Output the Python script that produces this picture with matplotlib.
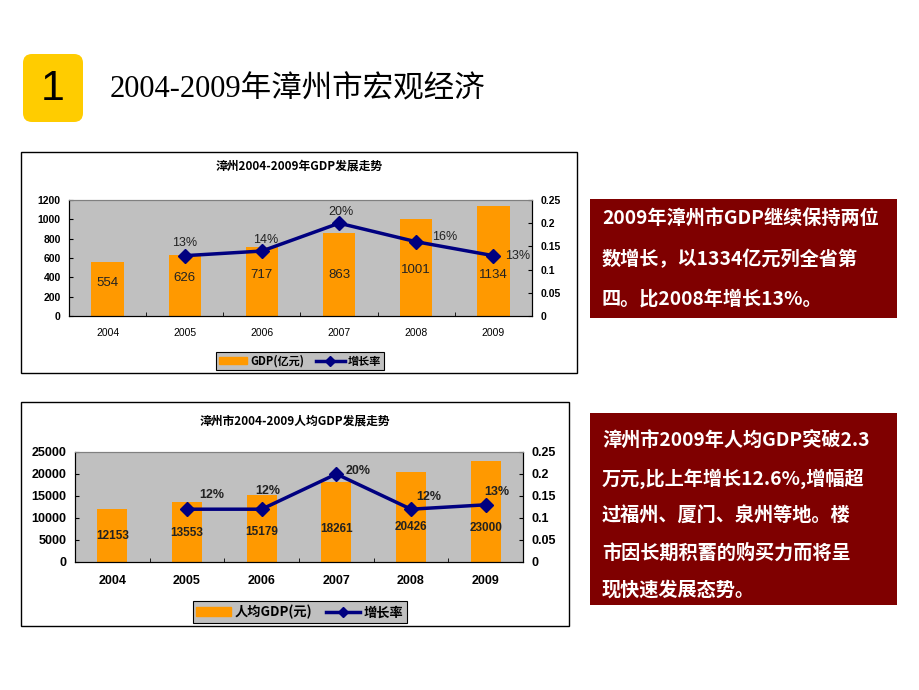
import numpy as np
import matplotlib
matplotlib.use('Agg')
import matplotlib.pyplot as plt
from matplotlib.patches import Rectangle, FancyBboxPatch
from matplotlib.lines import Line2D

W, H = 920, 690

years = ['2004', '2005', '2006', '2007', '2008', '2009']
# GDP (亿元) and growth rate 2005-2009
gdp = [554, 626, 717, 863, 1001, 1134]
gdp_rate = [0.13, 0.14, 0.20, 0.16, 0.13]
gdp_rate_text = ['13%', '14%', '20%', '16%', '13%']
# 人均GDP (元) and growth rate 2005-2009
per_gdp = [12153, 13553, 15179, 18261, 20426, 23000]
per_rate = [0.12, 0.12, 0.20, 0.12, 0.13]
per_rate_text = ['12%', '12%', '20%', '12%', '13%']

rate_ticks = [0, 0.05, 0.1, 0.15, 0.2, 0.25]
rate_tick_text = ['0', '0.05', '0.1', '0.15', '0.2', '0.25']

text1 = ['2009年漳州市GDP继续保持两位',
         '数增长，以1334亿元列全省第',
         '四。比2008年增长13%。']
text2 = ['漳州市2009年人均GDP突破2.3',
         '万元,比上年增长12.6%,增幅超',
         '过福州、厦门、泉州等地。楼',
         '市因长期积蓄的购买力而将呈',
         '现快速发展态势。']

plt.rcParams['font.family'] = ['Liberation Sans', 'Noto Sans CJK SC']
CJK = ['Noto Sans CJK SC', 'DejaVu Sans']

ORANGE = '#FF9900'
NAVY = '#000080'
GRAY = '#C0C0C0'
DARKRED = '#7F0000'


def rect(x0, y0, x1, y1):
    return [x0 / W, 1 - y1 / H, (x1 - x0) / W, (y1 - y0) / H]


fig = plt.figure(figsize=(9.2, 6.9), dpi=100)

# background layer in pixel coordinates
bg = fig.add_axes([0, 0, 1, 1])
bg.set_xlim(0, W)
bg.set_ylim(H, 0)
bg.axis('off')

bg.add_patch(FancyBboxPatch((23, 54), 60, 68, boxstyle='round,pad=0,rounding_size=9',
                            facecolor='#FFCC00', edgecolor='none'))
bg.text(53, 89, '1', fontsize=31, ha='center', va='center', family='Liberation Sans')
bg.text(110, 90, '2004-2009年漳州市宏观经济', fontsize=22, ha='left', va='center',
        family=['Liberation Serif', 'Noto Sans CJK SC'])

# chart frames
bg.add_patch(Rectangle((21, 152), 556, 221, facecolor='white', edgecolor='black', lw=1))
bg.add_patch(Rectangle((21, 402), 548, 224, facecolor='white', edgecolor='black', lw=1))

# text boxes
bg.add_patch(Rectangle((590, 199), 307, 119, facecolor=DARKRED, edgecolor='none'))
bg.add_patch(Rectangle((590, 413), 307, 192, facecolor=DARKRED, edgecolor='none'))
for i, line in enumerate(text1):
    bg.text(602, 219 + i * 40, line, color='white', fontsize=13.8, fontweight='bold',
            ha='left', va='center', family=CJK)
for i, line in enumerate(text2):
    bg.text(602, 441 + i * 37.3, line, color='white', fontsize=13.8, fontweight='bold',
            ha='left', va='center', family=CJK)


def draw_chart(plot_px, title, title_xy, values, rate, rate_text, ymax, ystep,
               bar_w, bar_label_y, rate_off, bold, tick_fs, xtick_fs, label_fs,
               pct_fs, legend_name, legend_xy, legend_fs):
    ax = fig.add_axes(rect(*plot_px))
    ax.set_facecolor(GRAY)
    x = np.arange(len(years))
    ax.bar(x, values, width=bar_w, color=ORANGE, zorder=2)
    ax.set_xlim(-0.5, len(years) - 0.5)
    ax.set_ylim(0, ymax)
    ax.set_yticks(np.arange(0, ymax + 1, ystep))
    ax.set_xticks(x)
    ax.set_xticklabels(years, fontsize=xtick_fs,
                       fontweight='bold' if bold else 'normal')
    ax.set_xticks(np.arange(-0.5, len(years)), minor=True)
    ax.tick_params(axis='x', which='major', length=0, pad=9)
    ax.tick_params(axis='x', which='minor', length=3, direction='in')
    ax.tick_params(axis='y', direction='in', length=3, labelsize=tick_fs, pad=6)
    for lab in ax.get_yticklabels():
        lab.set_fontweight('bold')
    for s in ax.spines.values():
        s.set_linewidth(0.8)
    ax.spines['top'].set_color('#808080')

    for i, v in enumerate(values):
        ax.text(x[i], bar_label_y[i], str(v), ha='center', va='center',
                fontsize=label_fs, fontweight='bold' if bold else 'normal',
                color='#222222', zorder=4)

    ax2 = ax.twinx()
    ax2.plot(x[1:], rate, color=NAVY, lw=2.5, marker='D', ms=7, zorder=3)
    ax2.set_ylim(0, 0.25)
    ax2.set_yticks(rate_ticks)
    ax2.set_yticklabels(rate_tick_text, fontweight='bold')
    ax2.tick_params(axis='y', direction='in', length=3, labelsize=tick_fs, pad=6)
    ax2.spines['top'].set_color('#808080')
    for s in ax2.spines.values():
        s.set_linewidth(0.8)
    for i, t in enumerate(rate_text):
        ax2.annotate(t, (x[i + 1], rate[i]), xytext=rate_off[i],
                     textcoords='offset pixels', ha='center', va='center',
                     fontsize=pct_fs, fontweight='bold' if bold else 'normal',
                     color='#222222')

    bg.text(title_xy[0], title_xy[1], title, ha='center', va='center',
            fontsize=8.5, fontweight='bold', family=CJK)

    handles = [Rectangle((0, 0), 1, 1, color=ORANGE),
               Line2D([], [], color=NAVY, lw=2.5, marker='D', ms=5)]
    leg = fig.legend(handles, [legend_name, '增长率'], loc='center',
                     bbox_to_anchor=(legend_xy[0] / W, 1 - legend_xy[1] / H),
                     ncol=2, frameon=True, fancybox=False, framealpha=1,
                     facecolor=GRAY, edgecolor='black', borderpad=0.25,
                     handlelength=2.6, handleheight=0.6, columnspacing=1.0,
                     handletextpad=0.3, prop={'family': CJK, 'weight': 'bold',
                                              'size': legend_fs})
    leg.get_frame().set_linewidth(0.8)
    return ax, ax2


draw_chart((69, 200, 532, 316), '漳州2004-2009年GDP发展走势', (299, 166),
           gdp, gdp_rate, gdp_rate_text, 1200, 200, 0.42,
           [341, 393, 424, 424, 476, 424],
           [(0, 13), (4, 11), (2, 11), (28, 5), (24, 0)],
           False, 7.5, 7.5, 9.5, 9, 'GDP(亿元)', (300, 361), 8)

draw_chart((75, 452, 523, 562), '漳州市2004-2009人均GDP发展走势', (295, 421),
           per_gdp, per_rate, per_rate_text, 25000, 5000, 0.4,
           [5900, 6600, 6800, 7500, 7950, 7700],
           [(25, 14), (6, 18), (22, 3), (18, 12), (11, 13)],
           True, 9, 9, 8.5, 9, '人均GDP(元)', (300, 612), 9.5)

fig.savefig('out.png', dpi=100)
